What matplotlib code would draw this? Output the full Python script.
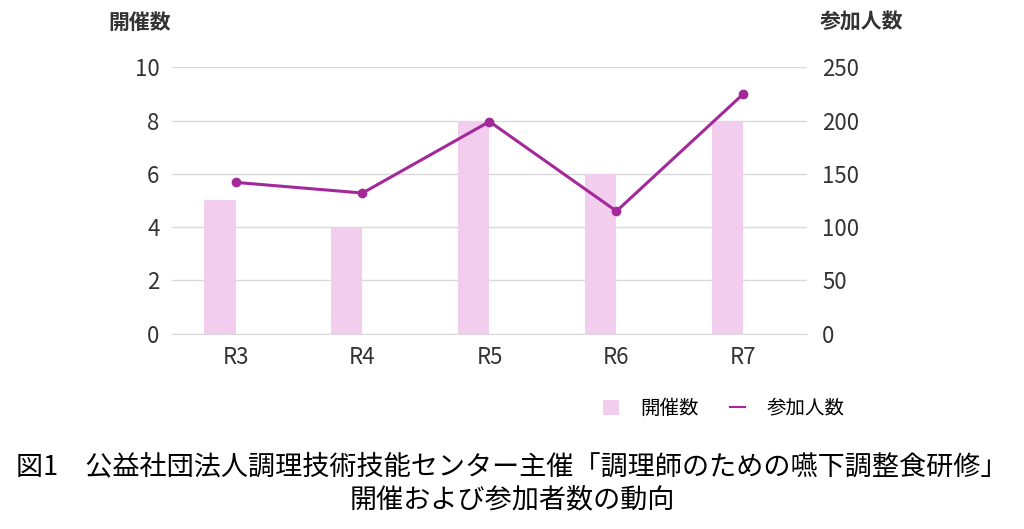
import matplotlib
matplotlib.use("Agg")
import matplotlib.pyplot as plt
import numpy as np
from matplotlib.patches import Patch
from matplotlib.lines import Line2D

plt.rcParams['font.family'] = ['Noto Sans CJK JP', 'DejaVu Sans']

categories = ["R3", "R4", "R5", "R6", "R7"]
sessions = [5, 4, 8, 6, 8]
participants = [142, 132, 199, 115, 225]
left_ticks = [0, 2, 4, 6, 8, 10]
right_ticks = [0, 50, 100, 150, 200, 250]

bar_color = "#F2CDEE"
line_color = "#A3299B"
grid_color = "#D9D9D9"
text_color = "#333333"

fig = plt.figure(figsize=(10.24, 5.29), dpi=100)
ax = fig.add_axes([0.168, 0.369, 0.620, 0.504])
x = np.arange(len(categories))
ax.bar(x - 0.125, sessions, width=0.25, color=bar_color, zorder=2)
ax.set_xlim(-0.5, len(categories) - 0.5)
ax.set_ylim(0, 10)
ax.set_yticks(left_ticks)
ax.set_xticks(x)
ax.set_xticklabels(categories)
ax.grid(axis='y', color=grid_color, linewidth=1, zorder=0)
for s in ['top', 'right', 'left']:
    ax.spines[s].set_visible(False)
ax.spines['bottom'].set_color(grid_color)
ax.tick_params(axis='both', length=0, labelsize=16, colors=text_color, pad=9)

ax2 = ax.twinx()
ax2.plot(x, participants, color=line_color, linewidth=2.2, marker='o', markersize=6, zorder=3)
ax2.set_ylim(0, 250)
ax2.set_yticks(right_ticks)
for s in ['top', 'right', 'left', 'bottom']:
    ax2.spines[s].set_visible(False)
ax2.tick_params(axis='y', length=0, labelsize=16, colors=text_color, pad=11)

fig.text(0.136, 0.958, "開催数", fontsize=15, fontweight='bold', color=text_color, ha='center', va='center')
fig.text(0.841, 0.958, "参加人数", fontsize=15, fontweight='bold', color=text_color, ha='center', va='center')

handles = [Patch(facecolor=bar_color, edgecolor='none'),
           Line2D([0], [0], color=line_color, linewidth=1.5)]
fig.legend(handles, ["開催数", "参加人数"], loc='center', bbox_to_anchor=(0.707, 0.228),
           ncol=2, frameon=False, fontsize=14, handlelength=0.8, handleheight=0.8,
           columnspacing=1.6, handletextpad=1.1)

fig.text(0.5, 0.118, "図1　公益社団法人調理技術技能センター主催「調理師のための嚥下調整食研修」",
         fontsize=19.5, ha='center', va='center', color='black')
fig.text(0.5, 0.056, "開催および参加者数の動向", fontsize=19.5, ha='center', va='center', color='black')

fig.savefig("out.png", dpi=100)
